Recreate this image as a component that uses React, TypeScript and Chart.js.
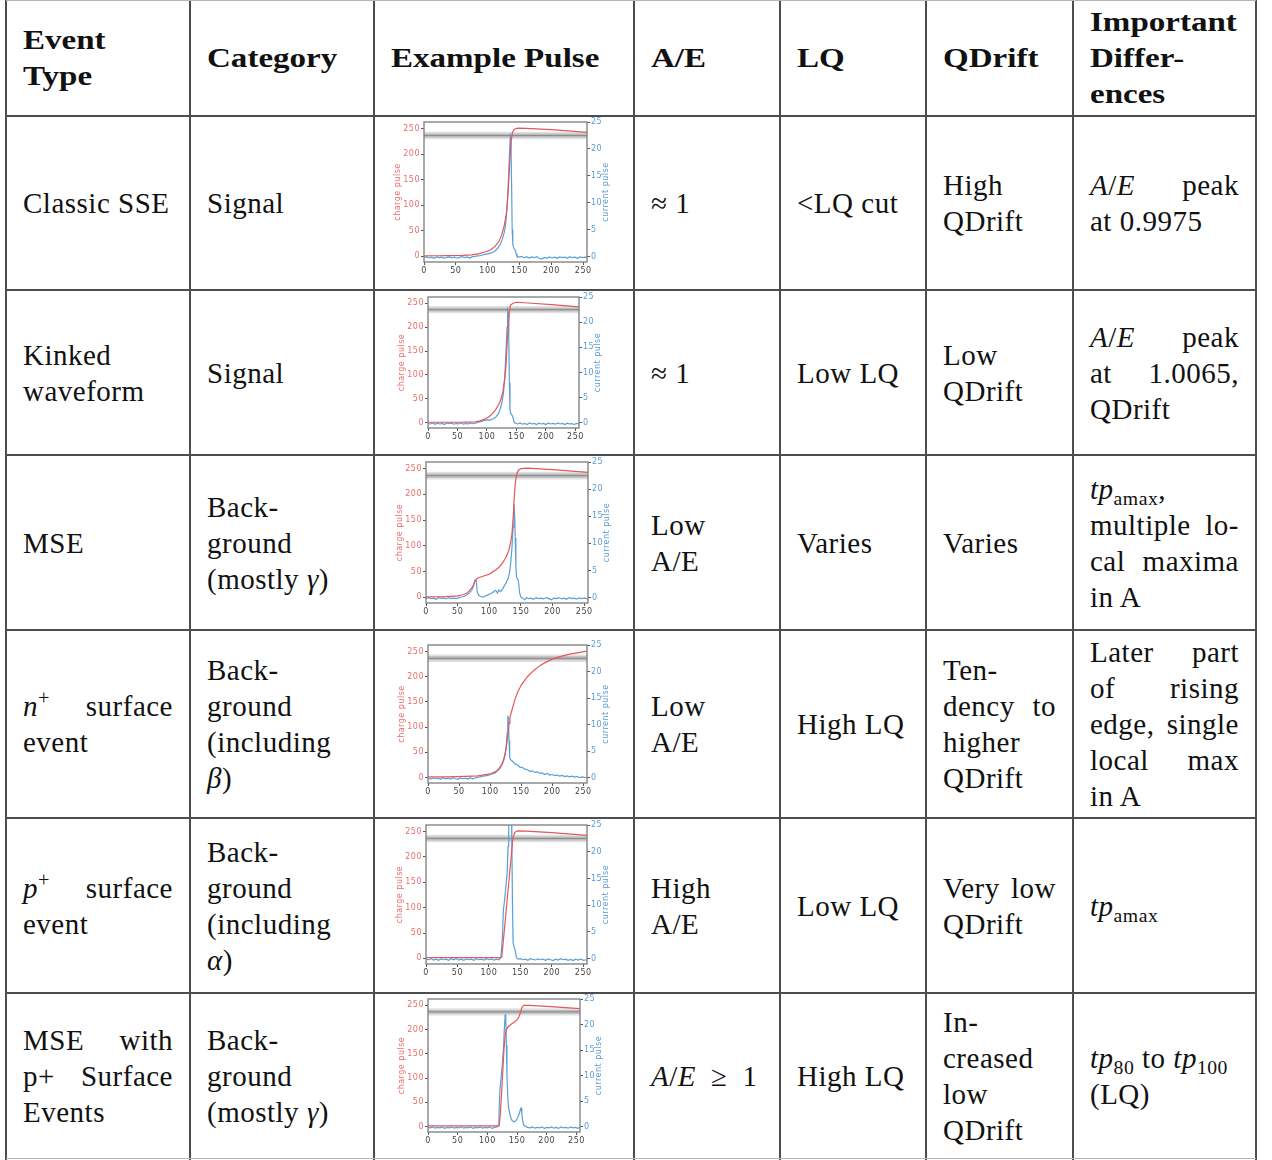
import React, { useEffect, useRef } from 'react';
import { Chart, registerables } from 'chart.js';

Chart.register(...registerables);

// ---------- chart data ----------
const xTicks = [0, 50, 100, 150, 200, 250];
const chargeTicks = [0, 50, 100, 150, 200, 250];
const currentTicks = [0, 5, 10, 15, 20, 25];
const sampleRange = [0, 256];
const chargeRange = [-11, 263];
const currentRange = [-1, 25];
const bandOuter = [229, 244];
const bandInner = [232.5, 240.5];
const bandCenter = 236.5;
const chargeLabel = 'charge pulse';
const currentLabel = 'current pulse';

const sseCharge = [[0,1],[20,1.2],[40,1.5],[60,2],[75,3],[85,5],[95,8],[105,13],[112,20],[118,30],[122,42],[126,60],[129,80],[131,105],[133,145],[135,190],[137,228],[139,243],[142,249],[147,251],[160,250.5],[200,248],[256,242.5]];
const sseCurrent = [[0,-0.15],[4,-0.05],[8,-0.25],[12,-0.1],[16,-0.3],[20,-0.05],[24,-0.2],[28,-0.1],[32,-0.3],[36,-0.15],[40,-0.05],[44,-0.25],[48,-0.1],[52,-0.3],[56,-0.15],[60,0],[64,-0.2],[68,-0.05],[72,-0.25],[76,0],[80,0.05],[84,0.15],[88,0.2],[92,0.3],[96,0.4],[100,0.5],[104,0.65],[108,0.8],[112,1.1],[116,1.6],[120,2.3],[123,3.2],[126,4.5],[128,5.8],[130,8.5],[132,12.5],[134,18.5],[135.5,22.2],[136.5,21.5],[137.5,14],[138.5,5],[139.5,2.2],[141,1.6],[143,1.3],[144.5,0.6],[146,0.1],[149,-0.1],[153,0.05],[157,-0.2],[161,0],[165,-0.25],[169,-0.05],[173,-0.2],[177,0],[181,-0.3],[185,-0.45],[189,-0.15],[193,-0.3],[197,-0.05],[201,-0.25],[205,-0.1],[209,-0.3],[213,-0.05],[217,-0.2],[221,-0.1],[225,-0.3],[229,0],[233,-0.2],[237,-0.1],[241,-0.3],[245,-0.05],[249,-0.2],[253,-0.1],[256,-0.15]];

const kinkCharge = [[0,1],[30,1],[60,1.2],[80,2],[88,4],[95,7],[100,10],[105,14],[110,20],[115,28],[120,38],[124,50],[127,65],[130,90],[132,115],[134,160],[136,205],[138,235],[140,246],[144,250],[150,252],[170,250.5],[210,247],[256,242.5]];
const kinkCurrent = [[0,-0.1],[4,-0.2],[8,0],[12,-0.25],[16,-0.05],[20,-0.2],[24,-0.1],[28,-0.3],[32,0],[36,-0.15],[40,-0.05],[44,-0.25],[48,-0.1],[52,-0.2],[56,0],[60,-0.25],[64,-0.1],[68,-0.2],[72,0],[76,-0.15],[80,-0.05],[84,0.1],[88,0.2],[92,0.35],[96,0.5],[100,0.6],[104,0.55],[108,0.7],[112,0.9],[116,1.3],[120,2],[123,3],[126,4.5],[128,6],[130,9],[132,13.5],[134,19],[135,22.3],[136,21.8],[137,17],[138,8],[139,2.5],[140,1.9],[142,1.6],[144,1.2],[145.5,0.3],[148,-0.05],[152,-0.2],[156,0],[160,-0.25],[164,-0.1],[168,-0.3],[172,0],[176,-0.2],[180,-0.1],[184,-0.3],[188,-0.05],[192,-0.2],[196,-0.1],[200,-0.3],[204,0],[208,-0.2],[212,-0.1],[216,-0.25],[220,0],[224,-0.2],[228,-0.1],[232,-0.3],[236,-0.05],[240,-0.2],[244,-0.15],[248,-0.3],[252,-0.1],[256,-0.2]];

const mseCharge = [[0,1],[30,1.5],[50,3],[58,5],[64,8],[68,12],[72,18],[75,24],[78,33],[80,36],[85,39],[90,41],[95,43],[100,45],[105,49],[110,53],[115,58],[120,65],[125,75],[128,82],[131,92],[134,108],[136,125],[138,160],[139.5,195],[141,220],[143,238],[146,247],[150,250],[160,251],[200,248],[256,243]];
const mseCurrent = [[0,-0.15],[4,0],[8,-0.2],[12,-0.1],[16,-0.3],[20,0],[24,-0.15],[28,-0.05],[32,-0.25],[36,0],[40,-0.2],[44,-0.05],[48,-0.2],[52,0],[56,0.1],[60,0.2],[63,0.4],[66,0.6],[69,0.9],[72,1.3],[74,1.8],[76,2.6],[77.5,3.2],[79,3.3],[80,2.4],[81,1.0],[83,0.5],[86,0.2],[90,0.1],[94,0.3],[98,0.5],[102,0.7],[106,1.0],[109,1.3],[111,1.2],[113,0.8],[115,1.4],[118,1.1],[121,1.6],[124,2.2],[127,2.8],[130,3.6],[132,4.6],[134,6.5],[136,9.5],[137.5,13],[139,17.3],[140,15.5],[141,11],[142,6],[143,3.8],[145,3.4],[146.5,2.6],[148,0.8],[150,0.1],[153,-0.1],[156,-0.4],[159,0],[162,-0.2],[166,-0.1],[170,-0.3],[174,0],[178,-0.2],[182,-0.1],[186,-0.25],[190,0],[194,-0.2],[198,-0.4],[202,-0.1],[206,-0.2],[210,0],[214,-0.25],[218,-0.1],[222,-0.3],[226,0],[230,-0.2],[234,-0.1],[238,-0.3],[242,-0.05],[246,-0.2],[250,-0.1],[256,-0.25]];

const nSurfCharge = [[0,1],[30,1.2],[60,2],[80,3],[90,5],[100,7],[108,11],[113,16],[118,24],[122,36],[125,52],[127,68],[129,90],[130.5,108],[132,120],[135,133],[140,155],[145,171],[150,183],[160,200],[170,212],[180,222],[190,229],[200,235],[210,239],[220,242.5],[230,245.5],[240,247.5],[256,251]];
const nSurfCurrent = [[0,-0.1],[4,-0.25],[8,-0.05],[12,-0.2],[16,-0.1],[20,-0.3],[24,0],[28,-0.2],[32,-0.1],[36,-0.25],[40,0],[44,-0.15],[48,-0.3],[52,-0.05],[56,-0.2],[60,-0.1],[64,-0.25],[68,0],[72,-0.2],[76,-0.05],[80,0.1],[84,0.15],[88,0.3],[92,0.35],[96,0.45],[100,0.55],[104,0.75],[108,0.9],[112,1.3],[116,1.8],[119,2.4],[122,3.3],[124,4.3],[126,6],[127.5,8.5],[128.5,11.5],[129.5,11.4],[130.5,7],[131.5,3.8],[133,3.4],[136,3.1],[140,2.6],[144,2.4],[148,2.0],[152,1.9],[156,1.6],[160,1.5],[164,1.2],[168,1.3],[172,1.0],[176,1.1],[180,0.8],[184,0.9],[188,0.6],[192,0.8],[196,0.5],[200,0.6],[204,0.4],[208,0.5],[212,0.3],[216,0.45],[220,0.2],[224,0.35],[228,0.15],[232,0.3],[236,0.1],[240,0.25],[244,0],[248,0.15],[252,0.05],[256,0]];

const pSurfCharge = [[0,1.5],[40,1.5],[80,1.5],[119,1.5],[120.5,3],[124,48],[127,88],[130,128],[133,168],[136,208],[138,235],[141,248],[145,251.5],[160,251],[200,248],[256,242.5]];
const pSurfCurrent = [[0,-0.1],[4,-0.2],[8,0],[12,-0.25],[16,-0.1],[20,-0.3],[24,-0.05],[28,-0.2],[32,-0.1],[36,-0.3],[40,0],[44,-0.2],[48,0.05],[52,-0.25],[56,-0.1],[60,-0.3],[64,-0.05],[68,-0.2],[72,-0.1],[76,-0.3],[80,0],[84,-0.2],[88,-0.1],[92,-0.25],[96,0],[100,-0.2],[104,-0.05],[108,-0.25],[112,-0.1],[116,-0.2],[119,0.2],[121.5,4],[123,9],[125,11],[127,13.5],[129,16],[130.5,21],[131.5,26],[133,31],[134.5,32],[135.5,30],[136.5,22],[137.5,10],[138.5,3],[140,2.2],[142,1.5],[143.5,0.3],[146,-0.1],[150,0],[154,-0.2],[158,-0.1],[162,-0.3],[166,0],[170,-0.15],[174,-0.25],[178,-0.05],[182,-0.2],[186,-0.1],[190,-0.3],[194,-0.05],[198,-0.2],[202,-0.35],[206,-0.1],[210,-0.25],[214,0],[218,-0.2],[222,-0.1],[226,-0.3],[230,-0.15],[234,-0.35],[238,-0.1],[242,-0.25],[246,-0.05],[250,-0.3],[256,-0.2]];

const mpCharge = [[0,1.5],[60,1.5],[118,1.5],[120,3],[122,30],[124,70],[126,115],[128,160],[130,188],[132,200],[135,206],[140,211],[145,215],[150,220],[153,226],[156,236],[158,245],[161,250],[170,250],[200,248],[256,243]];
const mpCurrent = [[0,-0.1],[4,-0.2],[8,0],[12,-0.25],[16,-0.1],[20,-0.2],[24,0],[28,-0.3],[32,-0.1],[36,-0.2],[40,0],[44,-0.25],[48,-0.1],[52,-0.2],[56,0.05],[60,-0.25],[64,-0.1],[68,-0.2],[72,0],[76,-0.3],[80,-0.1],[84,-0.2],[88,0],[92,-0.25],[96,-0.1],[100,-0.2],[104,0],[108,-0.3],[112,-0.1],[116,0],[118,0.2],[119.5,2],[121,7],[123,9.5],[125,12],[127,15],[128.5,19],[130,22],[131,21],[132,16],[133,10],[134.5,5.5],[136,3.5],[138,2.5],[140,1.6],[142,1.2],[145,1.0],[148,1.2],[151,1.8],[154,2.7],[156,3.6],[157,3.7],[158,2.5],[159.5,1.2],[161,0.4],[164,0.1],[168,-0.1],[172,-0.2],[176,0],[180,-0.25],[184,-0.1],[188,-0.2],[192,0],[196,-0.3],[200,-0.1],[204,-0.2],[208,0],[212,-0.25],[216,-0.1],[220,-0.3],[224,0],[228,-0.2],[232,-0.1],[236,-0.25],[240,0],[244,-0.2],[248,-0.1],[252,-0.3],[256,-0.1]];

// ---------- layout & style ----------
const colX = [6, 190, 374, 634, 780, 926, 1073, 1256];
const rowY = [0, 116, 290, 455, 630, 818, 993, 1159];
const plotRects = [
  [424, 122, 587, 262],
  [428, 297, 579, 428],
  [426, 462, 588, 603],
  [428, 645, 587, 783],
  [426, 825, 587, 964],
  [428, 999, 580, 1132],
];
const RED_LINE = '#e4575a';
const RED_TEXT = '#ec6d6d';
const BLUE_LINE = '#5a9fd6';
const BLUE_TEXT = '#5b9bd5';
const TICK_FONT = { family: '"DejaVu Sans", sans-serif', size: 8 };

const framePlugin = {
  id: 'frameAndRightTitle',
  afterDraw(chart: any) {
    const { ctx, chartArea: a } = chart;
    ctx.save();
    ctx.strokeStyle = '#858585';
    ctx.lineWidth = 1.4;
    ctx.strokeRect(a.left, a.top, a.right - a.left, a.bottom - a.top);
    ctx.translate(a.right + 19, (a.top + a.bottom) / 2);
    ctx.rotate(-Math.PI / 2);
    ctx.fillStyle = BLUE_TEXT;
    ctx.font = '8px "DejaVu Sans", sans-serif';
    ctx.textAlign = 'center';
    ctx.textBaseline = 'middle';
    ctx.fillText(currentLabel, 0, 0);
    ctx.restore();
  },
};

function PulseChart({ charge, current, rect }: { charge: number[][]; current: number[][]; rect: number[] }) {
  const ref = useRef<HTMLCanvasElement>(null);
  const [l, t, r, b] = rect;
  const W = r - l + 90;
  const H = b - t + 35;
  useEffect(() => {
    const toXY = (a: number[][]) => a.map(([x, y]) => ({ x, y }));
    const flat = (y: number) => [{ x: sampleRange[0], y }, { x: sampleRange[1], y }];
    const noLine = { borderColor: 'rgba(0,0,0,0)', borderWidth: 0, pointRadius: 0 };
    const chart = new Chart(ref.current as HTMLCanvasElement, {
      type: 'line',
      data: {
        datasets: [
          { label: chargeLabel, data: toXY(charge), yAxisID: 'y', borderColor: RED_LINE, borderWidth: 1.2, pointRadius: 0, fill: false },
          { label: currentLabel, data: toXY(current), yAxisID: 'y1', borderColor: BLUE_LINE, borderWidth: 1.2, pointRadius: 0, fill: false },
          { data: flat(bandCenter), yAxisID: 'y', borderColor: '#8c8c8c', borderWidth: 1, pointRadius: 0, fill: false },
          { data: flat(bandInner[1]), yAxisID: 'y', fill: { value: bandInner[0] }, backgroundColor: 'rgba(150,150,150,0.5)', ...noLine },
          { data: flat(bandOuter[1]), yAxisID: 'y', fill: { value: bandOuter[0] }, backgroundColor: 'rgba(205,205,205,0.6)', ...noLine },
        ] as any,
      },
      options: {
        animation: false,
        responsive: false,
        events: [],
        layout: { padding: { left: 14, right: 14, top: 10, bottom: 9 } },
        plugins: { legend: { display: false }, tooltip: { enabled: false } },
        scales: {
          x: {
            type: 'linear',
            min: sampleRange[0],
            max: sampleRange[1],
            afterBuildTicks: (s: any) => { s.ticks = xTicks.map((v) => ({ value: v })); },
            afterFit: (s: any) => { s.height = 16; },
            grid: { display: true, drawOnChartArea: false, drawTicks: true, tickLength: 3, color: '#555' },
            border: { display: false },
            ticks: { color: '#444', font: TICK_FONT, padding: 1, maxRotation: 0, autoSkip: false },
          },
          y: {
            type: 'linear',
            position: 'left',
            min: chargeRange[0],
            max: chargeRange[1],
            afterBuildTicks: (s: any) => { s.ticks = chargeTicks.map((v) => ({ value: v })); },
            afterFit: (s: any) => { s.width = 36; },
            grid: { display: true, drawOnChartArea: false, drawTicks: true, tickLength: 3, color: '#555' },
            border: { display: false },
            ticks: { color: RED_TEXT, font: TICK_FONT, padding: 1, autoSkip: false },
            title: { display: true, text: chargeLabel, color: RED_TEXT, font: TICK_FONT, padding: { top: 5.5, bottom: 0 } },
          },
          y1: {
            type: 'linear',
            position: 'right',
            min: currentRange[0],
            max: currentRange[1],
            afterBuildTicks: (s: any) => { s.ticks = currentTicks.map((v) => ({ value: v })); },
            afterFit: (s: any) => { s.width = 26; },
            grid: { display: true, drawOnChartArea: false, drawTicks: true, tickLength: 3, color: '#555' },
            border: { display: false },
            ticks: { color: BLUE_TEXT, font: TICK_FONT, padding: 1, autoSkip: false },
          },
        },
      } as any,
      plugins: [framePlugin],
    });
    return () => chart.destroy();
  }, []);
  return (
    <canvas
      ref={ref}
      width={W}
      height={H}
      style={{ position: 'absolute', left: l - 50, top: t - 10, width: W, height: H }}
    />
  );
}

// ---------- table text ----------
type Line = { c?: React.ReactNode; j?: React.ReactNode[] };
const I = (s: string) => <i>{s}</i>;
const AE = <span><i>A</i>/<i>E</i></span>;
const sub = (s: string) => (
  <sub style={{ fontSize: '0.68em', verticalAlign: '-0.3em', lineHeight: 0, fontStyle: 'normal' }}>{s}</sub>
);
const sup = (s: string) => (
  <sup style={{ fontSize: '0.7em', verticalAlign: '0.55em', lineHeight: 0 }}>{s}</sup>
);

const header: Line[][] = [
  [{ c: 'Event' }, { c: 'Type' }],
  [{ c: 'Category' }],
  [{ c: 'Example Pulse' }],
  [{ c: 'A/E' }],
  [{ c: 'LQ' }],
  [{ c: 'QDrift' }],
  [{ c: 'Important' }, { c: 'Differ-' }, { c: 'ences' }],
];

const body: Line[][][] = [
  [
    [{ c: 'Classic SSE' }],
    [{ c: 'Signal' }],
    [],
    [{ c: '≈ 1' }],
    [{ c: '<LQ cut' }],
    [{ c: 'High' }, { c: 'QDrift' }],
    [{ j: [AE, 'peak'] }, { c: 'at 0.9975' }],
  ],
  [
    [{ c: 'Kinked' }, { c: 'waveform' }],
    [{ c: 'Signal' }],
    [],
    [{ c: '≈ 1' }],
    [{ c: 'Low LQ' }],
    [{ c: 'Low' }, { c: 'QDrift' }],
    [{ j: [AE, 'peak'] }, { j: ['at', '1.0065,'] }, { c: 'QDrift' }],
  ],
  [
    [{ c: 'MSE' }],
    [{ c: 'Back-' }, { c: 'ground' }, { c: <span>(mostly {I('γ')})</span> }],
    [],
    [{ c: 'Low' }, { c: 'A/E' }],
    [{ c: 'Varies' }],
    [{ c: 'Varies' }],
    [{ c: <span>{I('tp')}{sub('amax')},</span> }, { j: ['multiple', 'lo-'] }, { j: ['cal', 'maxima'] }, { c: 'in A' }],
  ],
  [
    [{ j: [<span>{I('n')}{sup('+')}</span>, 'surface'] }, { c: 'event' }],
    [{ c: 'Back-' }, { c: 'ground' }, { c: '(including' }, { c: <span>{I('β')})</span> }],
    [],
    [{ c: 'Low' }, { c: 'A/E' }],
    [{ c: 'High LQ' }],
    [{ c: 'Ten-' }, { j: ['dency', 'to'] }, { c: 'higher' }, { c: 'QDrift' }],
    [{ j: ['Later', 'part'] }, { j: ['of', 'rising'] }, { j: ['edge,', 'single'] }, { j: ['local', 'max'] }, { c: 'in A' }],
  ],
  [
    [{ j: [<span>{I('p')}{sup('+')}</span>, 'surface'] }, { c: 'event' }],
    [{ c: 'Back-' }, { c: 'ground' }, { c: '(including' }, { c: <span>{I('α')})</span> }],
    [],
    [{ c: 'High' }, { c: 'A/E' }],
    [{ c: 'Low LQ' }],
    [{ j: ['Very', 'low'] }, { c: 'QDrift' }],
    [{ c: <span>{I('tp')}{sub('amax')}</span> }],
  ],
  [
    [{ j: ['MSE', 'with'] }, { j: ['p+', 'Surface'] }, { c: 'Events' }],
    [{ c: 'Back-' }, { c: 'ground' }, { c: <span>(mostly {I('γ')})</span> }],
    [],
    [{ c: <span>{AE}{'\u2002'}≥{'\u2002'}1</span> }],
    [{ c: 'High LQ' }],
    [{ c: 'In-' }, { c: 'creased' }, { c: 'low' }, { c: 'QDrift' }],
    [{ c: <span>{I('tp')}{sub('80')} to {I('tp')}{sub('100')}</span> }, { c: '(LQ)' }],
  ],
];

const charts = [
  [sseCharge, sseCurrent],
  [kinkCharge, kinkCurrent],
  [mseCharge, mseCurrent],
  [nSurfCharge, nSurfCurrent],
  [pSurfCharge, pSurfCurrent],
  [mpCharge, mpCurrent],
];

function Cell({ col, row, lines, bold }: { col: number; row: number; lines: Line[]; bold?: boolean }) {
  const x0 = colX[col];
  const x1 = colX[col + 1];
  const y0 = rowY[row];
  const y1 = rowY[row + 1];
  return (
    <div
      style={{
        position: 'absolute',
        left: x0,
        top: y0,
        width: x1 - x0,
        height: y1 - y0,
        display: 'flex',
        flexDirection: 'column',
        justifyContent: 'center',
        padding: '0 17px',
        boxSizing: 'border-box',
      }}
    >
      {lines.map((ln, i) => {
        const base: React.CSSProperties = { height: 36, lineHeight: '36px', whiteSpace: 'nowrap' };
        if (ln.j) {
          return (
            <div key={i} style={{ ...base, display: 'flex', justifyContent: 'space-between' }}>
              {ln.j.map((w, k) => <span key={k}>{w}</span>)}
            </div>
          );
        }
        if (bold) {
          return (
            <div key={i} style={base}>
              <span style={{ display: 'inline-block', transform: 'scaleX(1.18)', transformOrigin: '0 50%' }}>{ln.c}</span>
            </div>
          );
        }
        return <div key={i} style={base}>{ln.c}</div>;
      })}
    </div>
  );
}

export default function App() {
  const lineColor = '#4d4d4d';
  return (
    <div
      style={{
        position: 'absolute',
        left: 0,
        top: 0,
        width: 1272,
        height: 1160,
        background: '#fff',
        overflow: 'hidden',
        fontFamily: '"Liberation Serif", "Times New Roman", serif',
        fontSize: 29,
        letterSpacing: '0.5px',
        color: '#111',
      }}
    >
      <div style={{ fontWeight: 'bold', fontSize: 28, letterSpacing: 0 }}>
        {header.map((lines, c) => <Cell key={'h' + c} col={c} row={0} lines={lines} bold />)}
      </div>
      {body.map((cells, r) =>
        cells.map((lines, c) => <Cell key={r + '-' + c} col={c} row={r + 1} lines={lines} />)
      )}
      {charts.map(([ch, cu], r) => (
        <PulseChart key={'c' + r} charge={ch} current={cu} rect={plotRects[r]} />
      ))}
      {colX.map((x, i) => (
        <div key={'v' + i} style={{ position: 'absolute', left: x - 0.75, top: 0, width: 1.5, height: 1160, background: lineColor }} />
      ))}
      {rowY.map((y, i) => (
        <div
          key={'h' + i}
          style={{
            position: 'absolute',
            left: colX[0],
            top: i === 0 ? 0 : y - 0.75,
            width: colX[colX.length - 1] - colX[0],
            height: i === 0 || i === rowY.length - 1 ? 1 : 1.5,
            background: i === 0 || i === rowY.length - 1 ? '#b5b5b5' : lineColor,
          }}
        />
      ))}
    </div>
  );
}
